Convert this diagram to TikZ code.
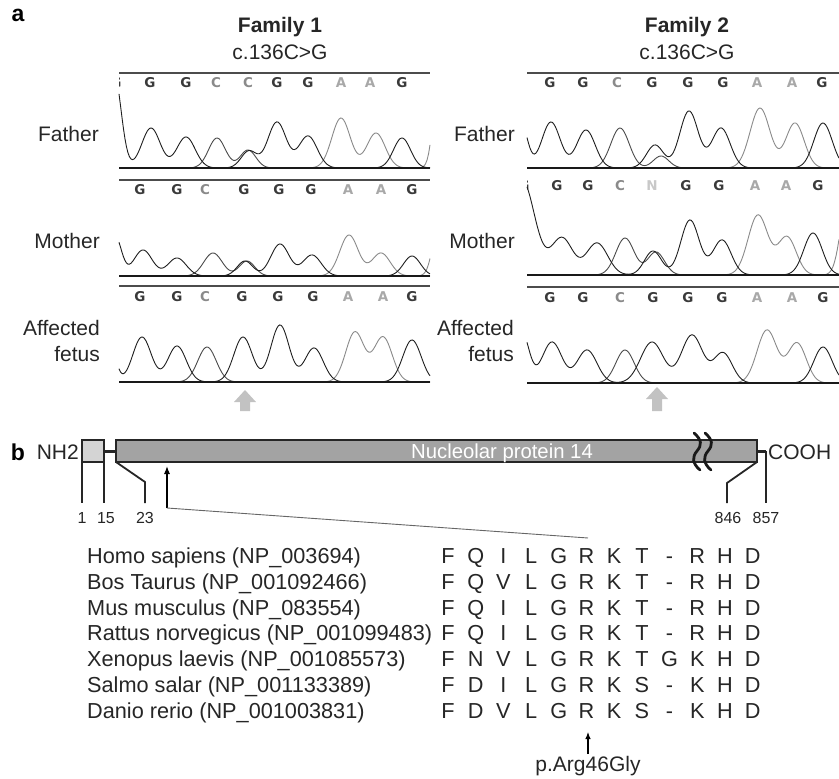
\documentclass[tikz,border=0pt]{standalone}
\usepackage{fontspec}
\setmainfont{Liberation Sans}
\newfontfamily\basefont{DejaVu Sans}
\usetikzlibrary{arrows.meta}
\definecolor{gT}{HTML}{1E1E1E}
\definecolor{cT}{HTML}{4A4A4A}
\definecolor{aT}{HTML}{8A8A8A}
\definecolor{gL}{HTML}{3A3A3A}
\definecolor{cL}{HTML}{8A8A8A}
\definecolor{aL}{HTML}{A8A8A8}
\definecolor{nL}{HTML}{C8C8C8}
\definecolor{barfill}{HTML}{A3A3A3}
\definecolor{boxfill}{HTML}{D4D4D4}
\definecolor{arrowgray}{HTML}{C2C2C2}
\newcommand\chromtrace[5]{%
  \gdef\trexpr{0}%
  \foreach \pc/\ph/\ps in {#5}{\xdef\trexpr{\unexpanded\expandafter{\trexpr}+gs(\noexpand\x,\pc,\ph,\ps)}}%
  \draw[#1] plot[domain=#2:#3,samples=210] (\x,{#4-(\trexpr)});
}
\newcommand\baserow[3]{%
  \foreach \bx/\bl/\bc in {#3}{\node[basel,text=\bc] (b#1-\bx) at (\bx,#2) {\bl};}%
}
\begin{document}
\begin{tikzpicture}[x=1pt,y=-1pt,
  declare function={gs(\pX,\pC,\pH,\pS)=\pH*exp(-min(((\pX-\pC)/\pS)*((\pX-\pC)/\pS),9));},
  lab/.style={font=\fontsize{21}{25}\selectfont,inner sep=0pt,text=black!85},
  splab/.style={font=\fontsize{21.7}{25}\selectfont,inner sep=0pt,text=black!85},
  panlab/.style={font=\fontsize{23}{27}\selectfont\bfseries,inner sep=0pt},
  ticklab/.style={font=\fontsize{16}{19}\selectfont,inner sep=0pt,anchor=base,text=black!85},
  basel/.style={font=\basefont\bfseries\fontsize{13.5}{16}\selectfont,inner sep=0pt},
  gtr/.style={gT,line width=0.9pt},
  ctr/.style={cT,line width=0.9pt},
  atr/.style={aT,line width=0.9pt},
  topline/.style={black!70,line width=1.1pt},
  baseline/.style={black!90,line width=2pt},
  struct/.style={black!85,line width=1.8pt},
  bigarrow/.style={fill=arrowgray},
]
\useasboundingbox (0,0) rectangle (839,779);

% ---------- panel a headings ----------
\node[panlab,anchor=base] (lba) at (18,21) {a};
\node[lab,font=\fontsize{21}{25}\selectfont\bfseries,anchor=base] (fam1) at (280,32) {Family 1};
\node[lab,anchor=base] (mut1) at (280,59) {c.136C>G};
\node[lab,font=\fontsize{21}{25}\selectfont\bfseries,anchor=base] (fam2) at (687,32) {Family 2};
\node[lab,anchor=base] (mut2) at (687,59) {c.136C>G};

% row labels
\node[lab,anchor=base east] (fa1) at (99,141) {Father};
\node[lab,anchor=base east] (mo1) at (100,248) {Mother};
\node[lab,anchor=base east] (af1) at (100,335) {Affected};
\node[lab,anchor=base east] (fe1) at (100,361) {fetus};
\node[lab,anchor=base east] (fa2) at (515,141) {Father};
\node[lab,anchor=base east] (mo2) at (515,248) {Mother};
\node[lab,anchor=base east] (af2) at (514,335) {Affected};
\node[lab,anchor=base east] (fe2) at (514,361) {fetus};

% ---------- Family 1 ----------
% father
\draw[topline] (119,73) -- (430,73);
\baserow{f1f}{83}{150/G/gL,186/G/gL,216/C/cL,248/C/cL,277/G/gL,308/G/gL,341/A/aL,370/A/aL,402/G/gL}
\begin{scope}\clip (119,70) rectangle (123,95);\node[basel,text=gL] (p1) at (116,83) {G};\end{scope}
\chromtrace{ctr}{119}{430}{168}{217/30/12,248/18/11}
\chromtrace{atr}{119}{430}{168}{341/50/13,376/35/13,440/110/8}
\chromtrace{gtr}{119}{430}{168}{114/95/10,151/40/13,186/31/13,249/17/11,277/46/13,308/32/13,402/30/12}
\draw[baseline] (119,168) -- (430,168);
% mother
\draw[topline] (119,180) -- (430,180);
\baserow{f1m}{190}{140/G/gL,177/G/gL,205/C/cL,244/G/gL,279/G/gL,311/G/gL,348/A/aL,381/A/aL,412/G/gL}
\chromtrace{ctr}{119}{430}{276}{213/23/13,247/15/11}
\chromtrace{atr}{119}{430}{276}{349/41/13,381/23/13,440/60/9}
\chromtrace{gtr}{119}{430}{276}{115/40/9,143/26/13,177/18/13,245/15/11,280/32/13,312/21/13,412/20/12}
\draw[baseline,line width=1.5pt] (119,276) -- (430,276);
% affected
\draw[topline] (119,286) -- (430,286);
\baserow{f1a}{297}{140/G/gL,177/G/gL,205/C/cL,242/G/gL,278/G/gL,313/G/gL,348/A/aL,383/A/aL,412/G/gL}
\chromtrace{ctr}{119}{430}{382}{207/35/13}
\chromtrace{atr}{119}{430}{382}{355/50/13,383/45/13}
\chromtrace{gtr}{119}{430}{382}{110/40/8,142/45/13,177/36/13,243/45/13,280/57/13,314/34/13,412/42/13}
\draw[baseline] (119,382) -- (430,382);
\fill[bigarrow] (245,390) -- (256,402) -- (250,402) -- (250,411) -- (240,411) -- (240,402) -- (234,402) -- cycle;

% ---------- Family 2 ----------
% father
\draw[topline] (527,73) -- (839,73);
\baserow{f2f}{83}{550/G/gL,583/G/gL,617/C/cL,652/G/gL,688/G/gL,723/G/gL,757/A/aL,792/A/aL,822/G/gL}
\chromtrace{ctr}{527}{839}{168}{620/40/13,661/12/11}
\chromtrace{atr}{527}{839}{168}{760/60/14,795/45/13}
\chromtrace{gtr}{527}{839}{168}{521/45/9,551/46/13,586/38/13,655/23/12,689/57/13,721/40/13,823/45/13}
\draw[baseline] (527,168) -- (839,168);
% mother
\baserow{f2m}{186}{557/G/gL,588/G/gL,620/C/cL,652/N/nL,686/G/gL,719/G/gL,755/A/aL,786/A/aL,818/G/gL}
\begin{scope}\clip (527,175) rectangle (531,198);\node[basel,text=gL] (p2) at (524,186) {G};\end{scope}
\chromtrace{ctr}{527}{839}{275}{625/37/13,656/23/12}
\chromtrace{atr}{527}{839}{275}{758/60/14,787/38/13,848/80/10}
\chromtrace{gtr}{527}{839}{275}{522/95/18,562/37/15,597/32/15,653/24/12,690/55/13,722/35/13,813/42/13}
\draw[baseline,line width=1.5pt] (527,275) -- (839,275);
% affected
\draw[topline] (527,287) -- (839,287);
\baserow{f2a}{298}{550/G/gL,583/G/gL,620/C/cL,653/G/gL,688/G/gL,722/G/gL,757/A/aL,792/A/aL,823/G/gL}
\chromtrace{ctr}{527}{839}{383}{625/33/13}
\chromtrace{atr}{527}{839}{383}{767/53/14,797/40/13}
\chromtrace{gtr}{527}{839}{383}{522/50/10,552/41/14,587/33/14,652/41/16,692/48/15,723/30/13,823/36/13}
\draw[baseline] (527,383) -- (839,383);
\fill[bigarrow] (657,387) -- (668,399) -- (662,399) -- (662,411) -- (652,411) -- (652,399) -- (646,399) -- cycle;

% ---------- panel b ----------
\node[panlab,anchor=base] (lbb) at (18,460) {b};
\node[lab,anchor=base east] (nh2) at (79,459) {NH2};
\node[lab,anchor=base west] (cooh) at (768,459) {COOH};
\draw[struct,line width=3pt] (104,451) -- (116,451);
\draw[struct,line width=3pt] (757,451) -- (766,451);
\draw[struct,fill=boxfill] (82,440) rectangle (104,462);
\draw[struct,fill=barfill] (116,440) rectangle (757,462);
\node[lab,text=white,font=\fontsize{20.3}{24}\selectfont,anchor=base] (np14) at (502,458) {Nucleolar protein 14};
\draw[black!90,line width=2.8pt,line cap=round] (694,433) .. controls (702,440) and (702,445) .. (697,451) .. controls (692,457) and (692,463) .. (700,470);
\draw[black!90,line width=2.8pt,line cap=round] (705,433) .. controls (713,440) and (713,445) .. (708,451) .. controls (703,457) and (703,463) .. (711,470);
% ticks
\draw[struct] (82,462) -- (82,503);
\draw[struct] (104,462) -- (104,503);
\draw[struct] (116,462) -- (145,482) -- (145,503);
\draw[struct] (757,462) -- (727,483) -- (727,503);
\draw[struct] (766,451) -- (766,503);
\node[ticklab] (t1) at (82,523.5) {1};
\node[ticklab] (t15) at (106,523.5) {15};
\node[ticklab] (t23) at (145,523.5) {23};
\node[ticklab] (t846) at (728,523.5) {846};
\node[ticklab] (t857) at (766,523.5) {857};
% pointer
\coordinate (pfoot) at (167,508);
\coordinate (ptip) at (167,466);
\coordinate (alntop) at (588,538);
\draw[black,line width=1.1pt,-{Latex[length=8pt,width=6pt]}] (pfoot) -- (ptip);
\draw[black!60,line width=0.9pt] (pfoot) -- (alntop);

% species
\foreach \sp [count=\r] in {Homo sapiens (NP\_003694),Bos Taurus (NP\_001092466),Mus musculus (NP\_083554),Rattus norvegicus (NP\_001099483),Xenopus laevis (NP\_001085573),Salmo salar (NP\_001133389),Danio rerio (NP\_001003831)}
  {\node[splab,anchor=base west] (sp\r) at (87,{563.5+25.8*(\r-1)}) {\sp};}
% alignment
\foreach \seq [count=\r] in {{F,Q,I,L,G,R,K,T,-,R,H,D},{F,Q,V,L,G,R,K,T,-,R,H,D},{F,Q,I,L,G,R,K,T,-,R,H,D},{F,Q,I,L,G,R,K,T,-,R,H,D},{F,N,V,L,G,R,K,T,G,K,H,D},{F,D,I,L,G,R,K,S,-,K,H,D},{F,D,V,L,G,R,K,S,-,K,H,D}}
  {\foreach \ch [count=\k] in \seq {\node[splab,anchor=base] (al-\r-\k) at ({448+27.7*(\k-1)},{563.5+25.8*(\r-1)}) {\ch};}}
\coordinate (mutfoot) at (588,754);
\coordinate (muttip) at (588,732);
\draw[black,line width=1.1pt,-{Latex[length=7pt,width=5.5pt]}] (mutfoot) -- (muttip);
\node[lab,anchor=base] (pmut) at (588,771) {p.Arg46Gly};
\end{tikzpicture}
\end{document}
